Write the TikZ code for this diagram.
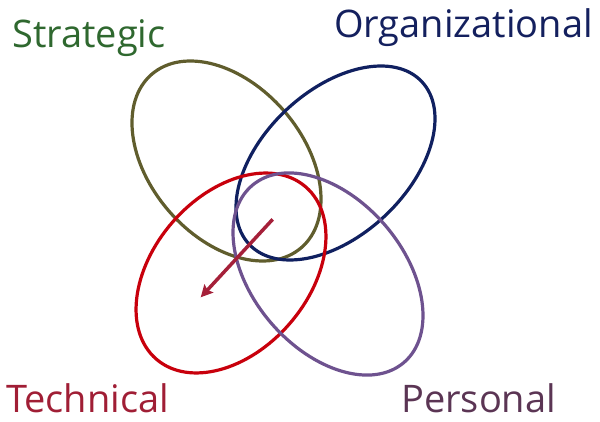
\documentclass[tikz,border=0pt]{standalone}
\usepackage{fontspec}
\setmainfont{Open Sans}
\usetikzlibrary{shapes.geometric,arrows.meta}
\definecolor{olivec}{RGB}{96,93,45}
\definecolor{navyc}{RGB}{16,32,96}
\definecolor{redc}{RGB}{200,0,12}
\definecolor{purplec}{RGB}{110,82,143}
\definecolor{stratc}{RGB}{47,104,47}
\definecolor{orgc}{RGB}{20,32,94}
\definecolor{techc}{RGB}{160,30,53}
\definecolor{persc}{RGB}{91,53,84}
\definecolor{arrowc}{RGB}{165,32,57}
\begin{document}
\begin{tikzpicture}[x=1pt,y=-1pt,
  ring/.style={ellipse, draw, line width=3.2pt, inner sep=0pt, outer sep=0pt},
  lab/.style={anchor=base west, inner sep=0pt, font=\fontsize{38}{44}\selectfont}]
\useasboundingbox (0,0) rectangle (600,422);
\node[ring, draw=olivec, minimum width=229pt, minimum height=152.6pt, rotate=-49.2] (strat) at (226.5,161) {};
\node[ring, draw=navyc, minimum width=237.2pt, minimum height=144.8pt, rotate=43.4] (org) at (335.5,163) {};
\node[ring, draw=redc, minimum width=228pt, minimum height=155pt, rotate=49] (tech) at (231,273) {};
\node[ring, draw=purplec, minimum width=233.2pt, minimum height=150.2pt, rotate=-49.3] (pers) at (328,274) {};
\coordinate (a1) at (272.7,219.3);
\coordinate (a2) at (200.7,297.3);
\draw[arrowc, line width=3.5pt, -{Stealth[length=12pt,width=12pt,inset=2pt]}] (a1) -- (a2);
\node[lab, text=stratc] (tstrat) at (12,47.3) {Strategic};
\node[lab, text=orgc] (torg) at (334,38) {Organizational};
\node[lab, text=techc] (ttech) at (6,412.7) {Technical};
\node[lab, text=persc] (tpers) at (401,412.7) {Personal};
\end{tikzpicture}
\end{document}
